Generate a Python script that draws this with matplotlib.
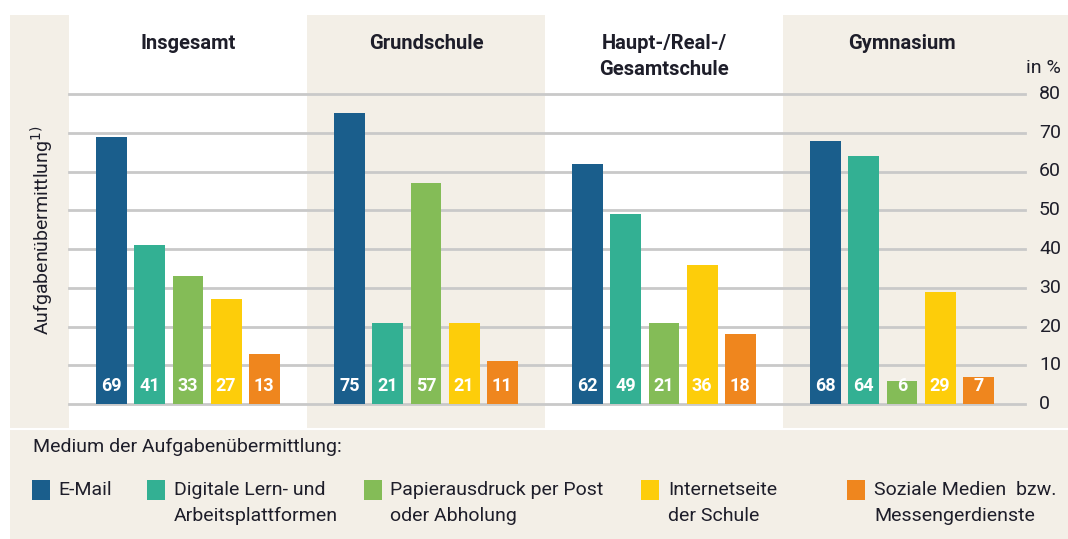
import matplotlib
matplotlib.use("Agg")
import matplotlib.pyplot as plt
from matplotlib.patches import Rectangle
from matplotlib.transforms import blended_transform_factory
from matplotlib import font_manager

groups = ["Insgesamt", "Grundschule", "Haupt-/Real-/\nGesamtschule", "Gymnasium"]
series = ["E-Mail", "Digitale Lern- und\nArbeitsplattformen", "Papierausdruck per Post\noder Abholung",
          "Internetseite\nder Schule", "Soziale Medien  bzw.\nMessengerdienste"]
email = [69, 75, 62, 68]
digital = [41, 21, 49, 64]
papier = [33, 57, 21, 6]
internet = [27, 21, 36, 29]
sozial = [13, 11, 18, 7]
yticks = [0, 10, 20, 30, 40, 50, 60, 70, 80]
colors = ["#1a5e8c", "#33b093", "#84bc57", "#fdcd0a", "#ef861e"]

avail = {f.name for f in font_manager.fontManager.ttflist}
fam = "Liberation Sans Narrow" if "Liberation Sans Narrow" in avail else "Roboto"
plt.rcParams['font.family'] = [fam, 'DejaVu Sans']

W, H = 1068, 539
BEIGE = "#f3efe7"
TXT = "#1e1e2a"
fig = plt.figure(figsize=(W / 100, H / 100), dpi=100)
fig.patch.set_facecolor("white")

def fx(px):
    return px / W

def fy(py):
    return 1 - py / H

# outer beige panel
fig.patches.append(Rectangle((fx(10), 0), 1 - fx(10), fy(15), transform=fig.transFigure,
                             facecolor=BEIGE, edgecolor="none", zorder=-10))
# white separator line
fig.add_artist(plt.Line2D([fx(10), 1], [fy(429), fy(429)], transform=fig.transFigure,
                          color="white", lw=1.5, zorder=1))

x0, x1 = 69, 1025
y0, y80 = 404, 94
ax = fig.add_axes([fx(x0), fy(y0), fx(x1) - fx(x0), (y0 - y80) / H])
ax.set_zorder(0)
ax.set_facecolor("none")
ax.set_xlim(0, (x1 - x0) / 238)
ax.set_ylim(0, 80)
for s in ax.spines.values():
    s.set_visible(False)
ax.set_xticks([])
ax.set_yticks([])

trans = blended_transform_factory(ax.transData, fig.transFigure)
for i in range(4):
    if i % 2 == 0:
        ax.add_patch(Rectangle((i, fy(428)), 1, fy(15) - fy(428), transform=trans,
                               facecolor="white", edgecolor="none", clip_on=False, zorder=0))

for t in yticks:
    ax.axhline(t, color="#c9c9c9", lw=2, zorder=1, clip_on=False)
    ax.text(1039 / W, fy(y0) + t / 80 * (y0 - y80) / H, str(t), transform=fig.transFigure,
            ha="left", va="center", fontsize=14, color=TXT)
fig.text(1061 / W, fy(68), "in %", ha="right", va="center", fontsize=14, color=TXT)

data = [email, digital, papier, internet, sozial]
width = 0.13
step = 0.16
for j, vals in enumerate(data):
    xs = [i + 0.5 + (j - 2) * step for i in range(4)]
    ax.bar(xs, vals, width=width, color=colors[j], zorder=2)
    for x, v in zip(xs, vals):
        ax.text(x, 2.2, str(v), ha="center", va="bottom", color="white", fontsize=13,
                fontweight="bold", zorder=3)

for i, g in enumerate(groups):
    ax.text(i + 0.5, fy(34), g, transform=trans, ha="center", va="top", fontsize=14.5,
            fontweight="bold", color=TXT, linespacing=1.45)

fig.text(fx(42), fy(230), "Aufgabenübermittlung$^{1)}$", rotation=90, ha="center", va="center",
         fontsize=14, color=TXT)

fig.text(fx(33), fy(447), "Medium der Aufgabenübermittlung:", ha="left", va="center",
         fontsize=14, color=TXT)
leg_sq_x = [32, 147, 364, 641, 847]
leg_tx_x = [58, 174, 390, 668, 874]
for j in range(5):
    fig.patches.append(Rectangle((fx(leg_sq_x[j]), fy(500)), 18 / W, 20 / H, transform=fig.transFigure,
                                 facecolor=colors[j], edgecolor="none", zorder=2))
    fig.text(fx(leg_tx_x[j]), fy(481), series[j], ha="left", va="top", fontsize=14,
             color=TXT, linespacing=1.55)

fig.savefig("out.png", dpi=100, facecolor=fig.get_facecolor())
